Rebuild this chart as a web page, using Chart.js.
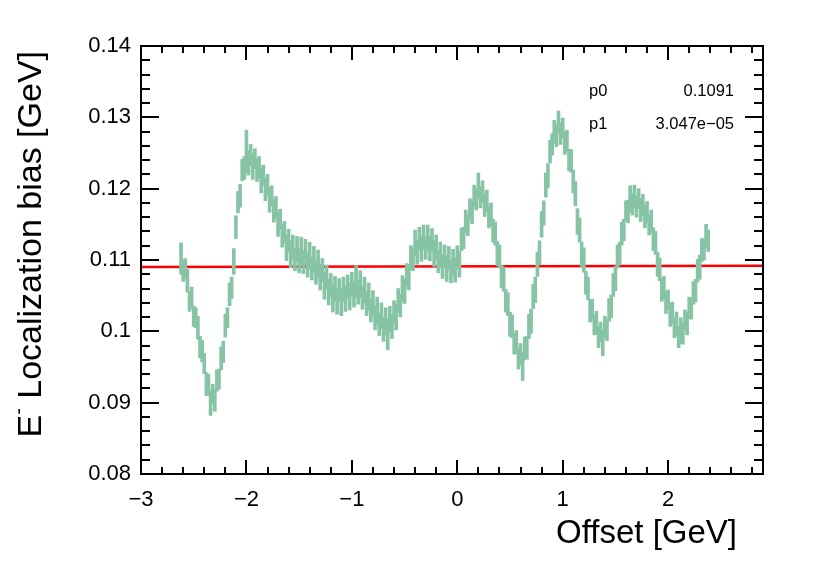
<!DOCTYPE html>
<html>
<head>
<meta charset="utf-8">
<script src="https://cdn.jsdelivr.net/npm/chart.js@4.4.1/dist/chart.umd.min.js"></script>
<style>
  html, body { margin: 0; padding: 0; background: #fff; }
  #wrap { width: 830px; height: 579px; }
</style>
</head>
<body>
<div id="wrap"><canvas id="c" width="830" height="579"></canvas></div>
<script>
// Data (bias vs offset, with vertical error bars)
const offsetValues = [
  -2.62,-2.60,-2.58,-2.56,-2.54,-2.52,-2.50,-2.48,-2.46,-2.44,
  -2.42,-2.40,-2.38,-2.36,-2.34,-2.32,-2.30,-2.28,-2.26,-2.24,
  -2.22,-2.20,-2.18,-2.16,-2.14,-2.12,-2.10,-2.08,-2.06,-2.04,
  -2.02,-2.00,-1.98,-1.96,-1.94,-1.92,-1.90,-1.88,-1.86,-1.84,
  -1.82,-1.80,-1.78,-1.76,-1.74,-1.72,-1.70,-1.68,-1.66,-1.64,
  -1.62,-1.60,-1.58,-1.56,-1.54,-1.52,-1.50,-1.48,-1.46,-1.44,
  -1.42,-1.40,-1.38,-1.36,-1.34,-1.32,-1.30,-1.28,-1.26,-1.24,
  -1.22,-1.20,-1.18,-1.16,-1.14,-1.12,-1.10,-1.08,-1.06,-1.04,
  -1.02,-1.00,-0.98,-0.96,-0.94,-0.92,-0.90,-0.88,-0.86,-0.84,
  -0.82,-0.80,-0.78,-0.76,-0.74,-0.72,-0.70,-0.68,-0.66,-0.64,
  -0.62,-0.60,-0.58,-0.56,-0.54,-0.52,-0.50,-0.48,-0.46,-0.44,
  -0.42,-0.40,-0.38,-0.36,-0.34,-0.32,-0.30,-0.28,-0.26,-0.24,
  -0.22,-0.20,-0.18,-0.16,-0.14,-0.12,-0.10,-0.08,-0.06,-0.04,
  -0.02,0.00,0.02,0.04,0.06,0.08,0.10,0.12,0.14,0.16,
  0.18,0.20,0.22,0.24,0.26,0.28,0.30,0.32,0.34,0.36,
  0.38,0.40,0.42,0.44,0.46,0.48,0.50,0.52,0.54,0.56,
  0.58,0.60,0.62,0.64,0.66,0.68,0.70,0.72,0.74,0.76,
  0.78,0.80,0.82,0.84,0.86,0.88,0.90,0.92,0.94,0.96,
  0.98,1.00,1.02,1.04,1.06,1.08,1.10,1.12,1.14,1.16,
  1.18,1.20,1.22,1.24,1.26,1.28,1.30,1.32,1.34,1.36,
  1.38,1.40,1.42,1.44,1.46,1.48,1.50,1.52,1.54,1.56,
  1.58,1.60,1.62,1.64,1.66,1.68,1.70,1.72,1.74,1.76,
  1.78,1.80,1.82,1.84,1.86,1.88,1.90,1.92,1.94,1.96,
  1.98,2.00,2.02,2.04,2.06,2.08,2.10,2.12,2.14,2.16,
  2.18,2.20,2.22,2.24,2.26,2.28,2.30,2.32,2.34,2.36,
  2.38
];
const biasValues = [
  0.1102,0.1085,0.1088,0.1071,0.1042,0.1047,0.1021,0.1019,0.1005,0.0978,
  0.0972,0.0955,0.0926,0.0925,0.0899,0.0912,0.0903,0.0931,0.0933,0.0962,
  0.0971,0.1008,0.1019,0.1052,0.1061,0.1098,0.1146,0.1181,0.1190,0.1226,
  0.1229,0.1252,0.1236,0.1247,0.1231,0.1242,0.1226,0.1230,0.1211,0.1219,
  0.1199,0.1205,0.1184,0.1190,0.1169,0.1174,0.1150,0.1157,0.1134,0.1139,
  0.1117,0.1127,0.1108,0.1118,0.1101,0.1115,0.1099,0.1113,0.1097,0.1111,
  0.1093,0.1106,0.1088,0.1101,0.1083,0.1095,0.1076,0.1086,0.1064,0.1076,
  0.1055,0.1065,0.1046,0.1060,0.1042,0.1058,0.1041,0.1059,0.1046,0.1063,
  0.1049,0.1066,0.1052,0.1070,0.1055,0.1066,0.1047,0.1058,0.1039,0.1049,
  0.1029,0.1039,0.1019,0.1029,0.1010,0.1022,0.1003,0.1014,0.0996,0.1017,
  0.1007,0.1027,0.1020,0.1043,0.1036,0.1060,0.1056,0.1079,0.1076,0.1103,
  0.1101,0.1124,0.1111,0.1130,0.1116,0.1132,0.1117,0.1131,0.1116,0.1128,
  0.1109,0.1118,0.1098,0.1107,0.1091,0.1105,0.1088,0.1102,0.1084,0.1097,
  0.1086,0.1104,0.1094,0.1129,0.1131,0.1154,0.1149,0.1171,0.1167,0.1190,
  0.1185,0.1204,0.1188,0.1196,0.1177,0.1183,0.1160,0.1164,0.1141,0.1137,
  0.1109,0.1105,0.1077,0.1073,0.1043,0.1038,0.1010,0.1007,0.0983,0.0985,
  0.0962,0.0968,0.0951,0.0976,0.0977,0.1007,0.1014,0.1049,0.1058,0.1094,
  0.1110,0.1150,0.1166,0.1205,0.1218,0.1252,0.1262,0.1280,0.1274,0.1293,
  0.1277,0.1285,0.1264,0.1267,0.1240,0.1239,0.1210,0.1193,0.1154,0.1142,
  0.1108,0.1100,0.1068,0.1060,0.1029,0.1030,0.1009,0.1012,0.0992,0.0999,
  0.0984,0.1006,0.1002,0.1030,0.1035,0.1065,0.1074,0.1105,0.1109,0.1137,
  0.1142,0.1169,0.1168,0.1186,0.1178,0.1189,0.1175,0.1186,0.1170,0.1177,
  0.1161,0.1167,0.1149,0.1154,0.1129,0.1124,0.1094,0.1087,0.1058,0.1061,
  0.1040,0.1044,0.1023,0.1026,0.1005,0.1011,0.0992,0.1001,0.0997,0.1016,
  0.1011,0.1033,0.1032,0.1054,0.1057,0.1085,0.1090,0.1114,0.1115,0.1134,
  0.1127
];
const biasErrors = [
  0.0022,0.0015,0.0014,0.0016,0.0014,0.0015,0.0014,0.0014,0.0016,0.0015,
  0.0015,0.0014,0.0016,0.0015,0.0017,0.0014,0.0015,0.0015,0.0014,0.0016,
  0.0015,0.0016,0.0014,0.0016,0.0015,0.0018,0.0016,0.0015,0.0016,0.0015,
  0.0016,0.0030,0.0017,0.0015,0.0018,0.0014,0.0016,0.0015,0.0017,0.0014,
  0.0016,0.0015,0.0017,0.0014,0.0016,0.0015,0.0017,0.0014,0.0016,0.0015,
  0.0018,0.0016,0.0019,0.0017,0.0016,0.0018,0.0017,0.0019,0.0016,0.0018,
  0.0017,0.0019,0.0016,0.0018,0.0017,0.0019,0.0018,0.0016,0.0019,0.0017,
  0.0018,0.0016,0.0019,0.0017,0.0018,0.0016,0.0019,0.0017,0.0018,0.0016,
  0.0019,0.0017,0.0018,0.0022,0.0017,0.0019,0.0016,0.0018,0.0017,0.0019,
  0.0016,0.0018,0.0017,0.0019,0.0016,0.0018,0.0017,0.0019,0.0022,0.0018,
  0.0017,0.0016,0.0018,0.0017,0.0016,0.0018,0.0017,0.0016,0.0018,0.0017,
  0.0016,0.0018,0.0017,0.0016,0.0018,0.0017,0.0016,0.0018,0.0017,0.0016,
  0.0018,0.0017,0.0016,0.0018,0.0017,0.0016,0.0018,0.0017,0.0016,0.0018,
  0.0017,0.0016,0.0018,0.0016,0.0015,0.0016,0.0015,0.0015,0.0016,0.0015,
  0.0015,0.0018,0.0015,0.0015,0.0016,0.0015,0.0015,0.0016,0.0016,0.0016,
  0.0017,0.0016,0.0016,0.0017,0.0016,0.0016,0.0017,0.0016,0.0015,0.0016,
  0.0015,0.0015,0.0020,0.0016,0.0016,0.0017,0.0017,0.0017,0.0018,0.0017,
  0.0017,0.0018,0.0017,0.0017,0.0017,0.0016,0.0015,0.0016,0.0015,0.0016,
  0.0015,0.0014,0.0016,0.0015,0.0015,0.0016,0.0016,0.0017,0.0018,0.0017,
  0.0017,0.0017,0.0016,0.0016,0.0016,0.0015,0.0014,0.0016,0.0015,0.0014,
  0.0018,0.0015,0.0015,0.0016,0.0016,0.0016,0.0017,0.0016,0.0016,0.0016,
  0.0015,0.0014,0.0016,0.0018,0.0015,0.0016,0.0015,0.0014,0.0016,0.0015,
  0.0016,0.0015,0.0014,0.0016,0.0016,0.0016,0.0017,0.0016,0.0016,0.0016,
  0.0015,0.0014,0.0016,0.0015,0.0014,0.0016,0.0015,0.0018,0.0015,0.0014,
  0.0016,0.0015,0.0015,0.0016,0.0016,0.0016,0.0017,0.0016,0.0015,0.0016,
  0.0015
];

// Linear fit (pol1) as shown in the stats box
const fitX = [-3.0, 2.9];
const fitY = [0.10901, 0.10919];
const fitParNames = ['p0', 'p1'];
const fitParValues = ['0.1091', '3.047e\u221205'];

// Axes
const xTickValues = [-3, -2, -1, 0, 1, 2];
const xTickLabels = ['\u22123', '\u22122', '\u22121', '0', '1', '2'];
const yTickValues = [0.08, 0.09, 0.10, 0.11, 0.12, 0.13, 0.14];
const yTickLabels = ['0.08', '0.09', '0.1', '0.11', '0.12', '0.13', '0.14'];
const xTitle = 'Offset [GeV]';
const yTitle = ' Localization bias [GeV]';

const FONT = "'Liberation Sans', Arial, Helvetica, sans-serif";
const GREEN = '#87c4a5';

// ROOT-like frame: box, inward ticks on all four sides, titles, fit stats
const rootFrame = {
  id: 'rootFrame',
  afterDraw(chart) {
    const { ctx, chartArea: a } = chart;
    const xs = chart.scales.x, ys = chart.scales.y;
    ctx.save();
    ctx.strokeStyle = '#000';
    ctx.lineWidth = 2;
    ctx.beginPath();
    // x ticks every 0.2, major on integers
    for (let i = 0; i <= 29; i++) {
      const v = -3 + i * 0.2;
      const px = Math.round(xs.getPixelForValue(v));
      const len = (i % 5 === 0) ? 14 : 7;
      ctx.moveTo(px, a.bottom); ctx.lineTo(px, a.bottom - len);
      ctx.moveTo(px, a.top); ctx.lineTo(px, a.top + len);
    }
    // y ticks every 0.002, major every 0.01
    for (let i = 0; i <= 30; i++) {
      const v = 0.08 + i * 0.002;
      const py = Math.round(ys.getPixelForValue(v));
      const len = (i % 5 === 0) ? 18 : 9;
      ctx.moveTo(a.left, py); ctx.lineTo(a.left + len, py);
      ctx.moveTo(a.right, py); ctx.lineTo(a.right - len, py);
    }
    ctx.stroke();
    ctx.strokeRect(a.left, a.top, a.right - a.left, a.bottom - a.top);

    ctx.fillStyle = '#000';
    // x title, right aligned near axis end
    ctx.font = '33px ' + FONT;
    ctx.textAlign = 'right';
    ctx.textBaseline = 'alphabetic';
    ctx.fillText(xTitle, a.right - 26, 543);

    // y title (rotated), E with superscript minus
    ctx.save();
    ctx.translate(41, 51);
    ctx.rotate(-Math.PI / 2);
    ctx.font = '34px ' + FONT;
    const wRest = ctx.measureText(yTitle).width;
    const wE = ctx.measureText('E').width;
    ctx.font = '20px ' + FONT;
    const wSup = ctx.measureText('-').width;
    const total = wE + wSup + wRest;
    ctx.textAlign = 'left';
    ctx.font = '34px ' + FONT;
    ctx.fillText('E', -total, 0);
    ctx.font = '20px ' + FONT;
    ctx.fillText('-', -total + wE, -16);
    ctx.font = '34px ' + FONT;
    ctx.fillText(yTitle, -total + wE + wSup, 0);
    ctx.restore();

    // fit parameters
    ctx.font = '16.5px ' + FONT;
    const rows = [95.5, 129];
    fitParNames.forEach((n, i) => {
      ctx.textAlign = 'left';
      ctx.fillText(n, 589, rows[i]);
      ctx.textAlign = 'right';
      ctx.fillText(fitParValues[i], 734, rows[i]);
    });
    ctx.restore();
  }
};

const errorBars = offsetValues.map((x, i) => ({
  x: x,
  y: [biasValues[i] - biasErrors[i], biasValues[i] + biasErrors[i]]
}));

new Chart(document.getElementById('c').getContext('2d'), {
  type: 'bar',
  data: {
    datasets: [
      {
        type: 'bar',
        label: 'bias',
        data: errorBars,
        backgroundColor: GREEN,
        borderWidth: 0,
        barThickness: 3,
        grouped: false
      },
      {
        type: 'line',
        label: 'fit',
        data: fitX.map((x, i) => ({ x: x, y: fitY[i] })),
        borderColor: '#ff0000',
        borderWidth: 2.4,
        pointRadius: 0,
        fill: false
      }
    ]
  },
  options: {
    responsive: false,
    animation: false,
    devicePixelRatio: 1,
    layout: { padding: { left: 0, top: 46, right: 67, bottom: 0 } },
    plugins: { legend: { display: false }, tooltip: { enabled: false }, title: { display: false } },
    scales: {
      x: {
        type: 'linear', min: -3, max: 2.9, offset: false,
        grid: { display: false, drawTicks: false }, border: { display: false },
        afterBuildTicks: s => { s.ticks = xTickValues.map(v => ({ value: v })); },
        afterFit: s => { s.height = 105; },
        ticks: {
          color: '#000', font: { family: FONT, size: 22 }, padding: 13,
          maxRotation: 0, autoSkip: false,
          callback: (v, i) => xTickLabels[i]
        }
      },
      y: {
        type: 'linear', min: 0.08, max: 0.14,
        grid: { display: false, drawTicks: false }, border: { display: false },
        afterBuildTicks: s => { s.ticks = yTickValues.map(v => ({ value: v })); },
        afterFit: s => { s.width = 141; },
        ticks: {
          color: '#000', font: { family: FONT, size: 22 }, padding: 10,
          autoSkip: false,
          callback: (v, i) => yTickLabels[i]
        }
      }
    }
  },
  plugins: [rootFrame]
});
</script>
</body>
</html>
